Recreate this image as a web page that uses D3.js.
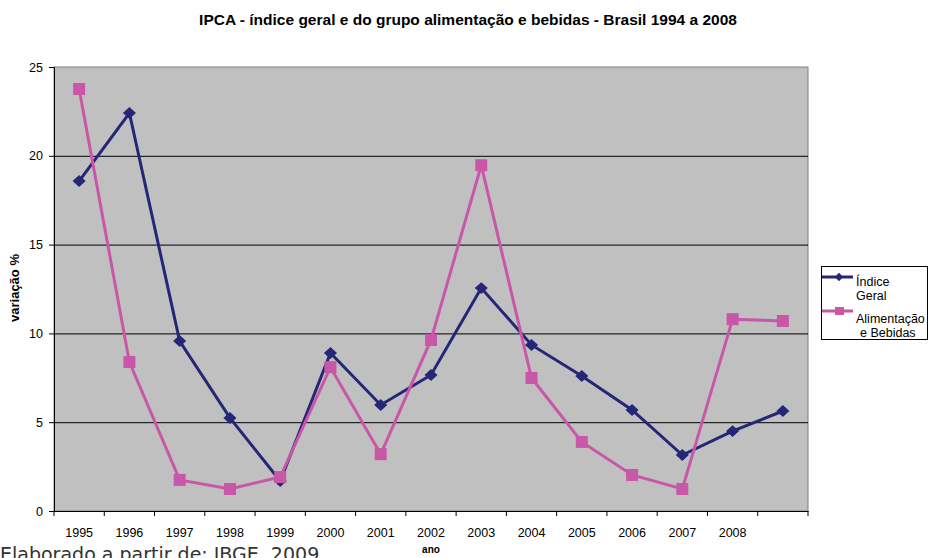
<!DOCTYPE html>
<head>
  <meta charset="utf-8">
  <script src="https://d3js.org/d3.v7.min.js"></script>
  <style>
body { margin: 0; background: #fff; }
svg { font-family: "Liberation Sans", Arial, sans-serif; }
.tick text { font-family: "Liberation Sans", Arial, sans-serif; font-size: 12.5px; fill: #000; }
  </style>
</head>
<body>
<script>
// one band per year, the last band has no label
var years = ["1995","1996","1997","1998","1999","2000","2001","2002","2003","2004","2005","2006","2007","2008",""];
var indiceGeral = [18.58,22.41,9.57,5.24,1.69,8.9,5.97,7.66,12.55,9.35,7.6,5.69,3.15,4.5,5.63];
var alimentacao = [23.76,8.39,1.75,1.24,1.91,8.1,3.2,9.63,19.47,7.49,3.89,2.03,1.24,10.8,10.7];
var yTicks = [0,5,10,15,20,25];

var width = 928, height = 558;
var plotL = 54, plotR = 808, plotT = 67, plotB = 511;

var svg = d3.select("body").append("svg")
  .attr("width", width)
  .attr("height", height);

var x = d3.scaleBand().domain(d3.range(years.length)).range([plotL, plotR]);
var y = d3.scaleLinear().domain([0, 25]).range([plotB, plotT]);

// plot background
svg.append("rect")
  .attr("x", plotL).attr("y", plotT)
  .attr("width", plotR - plotL).attr("height", plotB - plotT)
  .attr("fill", "#c0c0c0")
  .attr("stroke", "#808080");

// horizontal grid
svg.append("g").selectAll("line")
  .data(yTicks.filter(d => d > 0 && d < 25))
  .enter().append("line")
  .attr("x1", plotL).attr("x2", plotR)
  .attr("y1", d => y(d) + 0.5).attr("y2", d => y(d) + 0.5)
  .attr("stroke", "#000").attr("stroke-width", 1);

var yAxis = svg.append("g")
  .attr("transform", "translate(" + plotL + ",0)")
  .call(d3.axisLeft(y).tickValues(yTicks).tickSize(5).tickPadding(6));
yAxis.select(".domain").attr("stroke", "#000");

var xAxis = svg.append("g")
  .attr("transform", "translate(0," + plotB + ")")
  .call(d3.axisBottom(x).tickFormat(i => years[i]).tickSize(0).tickPadding(17));
xAxis.select(".domain").attr("stroke", "#000");
// tick marks at band edges
xAxis.selectAll(".edge")
  .data(d3.range(years.length + 1))
  .enter().append("line")
  .attr("class", "edge")
  .attr("x1", i => plotL + i * x.step()).attr("x2", i => plotL + i * x.step())
  .attr("y1", 0).attr("y2", 5)
  .attr("stroke", "#000");

var line = d3.line()
  .x((d, i) => x(i) + x.bandwidth() / 2)
  .y(d => y(d));

var navy = "#262678", pink = "#c957a8";

svg.append("path").datum(indiceGeral)
  .attr("d", line).attr("fill", "none")
  .attr("stroke", navy).attr("stroke-width", 3);
svg.append("path").datum(alimentacao)
  .attr("d", line).attr("fill", "none")
  .attr("stroke", pink).attr("stroke-width", 3);

var diamond = d3.symbol().type(d3.symbolDiamond2).size(90);
svg.append("g").selectAll("path")
  .data(indiceGeral).enter().append("path")
  .attr("d", diamond)
  .attr("transform", (d, i) => "translate(" + (x(i) + x.bandwidth() / 2) + "," + y(d) + ") scale(1.1,1)")
  .attr("fill", navy);

svg.append("g").selectAll("rect")
  .data(alimentacao).enter().append("rect")
  .attr("x", (d, i) => x(i) + x.bandwidth() / 2 - 6)
  .attr("y", d => y(d) - 6)
  .attr("width", 12).attr("height", 12)
  .attr("fill", pink);

// title
svg.append("text")
  .attr("x", 468).attr("y", 25)
  .attr("text-anchor", "middle")
  .style("font-size", "15.5px").style("font-weight", "bold")
  .text("IPCA - índice geral e do grupo alimentação e bebidas - Brasil 1994 a 2008");

// axis titles
svg.append("text")
  .attr("transform", "translate(19,288) rotate(-90)")
  .attr("text-anchor", "middle")
  .style("font-size", "13px").style("font-weight", "bold")
  .text("variação %");

svg.append("text")
  .attr("x", 431).attr("y", 553)
  .attr("text-anchor", "middle")
  .style("font-size", "10px").style("font-weight", "bold")
  .text("ano");

svg.append("text")
  .attr("x", 0).attr("y", 561)
  .style("font-family", "'DejaVu Sans', Verdana, sans-serif")
  .style("font-size", "19px").attr("fill", "#333")
  .text("Elaborado a partir de: IBGE, 2009");

// legend
var legend = svg.append("g");
legend.append("rect")
  .attr("x", 821.5).attr("y", 266.5)
  .attr("width", 106).attr("height", 73)
  .attr("fill", "#fff").attr("stroke", "#000");

var legendItems = [
  {color: navy, lines: ["Índice", "Geral"], cy: 277, base: 286, marker: "diamond"},
  {color: pink, lines: ["Alimentação", " e Bebidas"], cy: 311, base: 323, marker: "square"}
];
legendItems.forEach(function(it) {
  legend.append("line")
    .attr("x1", 822).attr("x2", 853)
    .attr("y1", it.cy).attr("y2", it.cy)
    .attr("stroke", it.color).attr("stroke-width", 3);
  if (it.marker === "diamond") {
    legend.append("path")
      .attr("d", d3.symbol().type(d3.symbolDiamond2).size(45))
      .attr("transform", "translate(839," + it.cy + ")")
      .attr("fill", it.color);
  } else {
    legend.append("rect")
      .attr("x", 835).attr("y", it.cy - 4)
      .attr("width", 9).attr("height", 8)
      .attr("fill", it.color);
  }
  legend.append("text")
    .attr("x", 856).attr("y", it.base)
    .style("font-size", "12.5px")
    .text(it.lines[0]);
  legend.append("text")
    .attr("x", it.lines[1].startsWith(" ") ? 860 : 856).attr("y", it.base + 13.5)
    .style("font-size", "12.5px")
    .text(it.lines[1].trim());
});
</script>
</body>
